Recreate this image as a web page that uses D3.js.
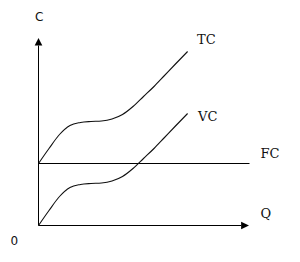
<!DOCTYPE html>
<html><head><meta charset="utf-8">
<script src="https://cdn.jsdelivr.net/npm/d3@7"></script>
<style>html,body{margin:0;padding:0;background:#fff;}svg{display:block;}</style>
</head><body>
<script>
// Data (abstract units)
const quantity = [0, 5, 10, 15, 20, 25, 30, 35, 40, 45, 50, 55, 60, 65, 71];
const variableCost = [0, 15, 29, 38, 41, 42, 42.5, 44.5, 49, 57, 67, 77, 88, 99, 112];
const fixedCost = 62;
const totalCost = variableCost.map(v => v + fixedCost);
const axisLabels = { y: "C", x: "Q", origin: "0" };
const seriesLabels = ["TC", "VC", "FC"];

const W = 300, H = 262;
const svg = d3.select("body").append("svg").attr("width", W).attr("height", H);

const x = d3.scaleLinear().domain([0, 100]).range([38.5, 248.5]);
const y = d3.scaleLinear().domain([0, 187]).range([225.5, 38.5]);

// axes
svg.append("line").attr("x1", x(0)).attr("x2", x(0)).attr("y1", y(0)).attr("y2", y(180))
  .attr("stroke", "#000").attr("stroke-width", 1);
svg.append("path").attr("d", `M${x(0)-3.8},${y(180)} L${x(0)+3.8},${y(180)} L${x(0)},${y(187)-0.5} Z`).attr("fill", "#000");
svg.append("line").attr("x1", x(0)).attr("x2", x(96.5)).attr("y1", y(0)).attr("y2", y(0))
  .attr("stroke", "#000").attr("stroke-width", 1);
svg.append("path").attr("d", `M${x(96.5)},${y(0)-3.8} L${x(96.5)},${y(0)+3.8} L${x(100)+0.5},${y(0)} Z`).attr("fill", "#000");

// FC line
svg.append("line").attr("x1", x(0)).attr("x2", x(100)+1).attr("y1", y(fixedCost)).attr("y2", y(fixedCost))
  .attr("stroke", "#000").attr("stroke-width", 1);

const line = d3.line().x((d, i) => x(quantity[i])).y(d => y(d)).curve(d3.curveMonotoneX);
svg.append("path").datum(totalCost).attr("d", line).attr("fill", "none").attr("stroke", "#111").attr("stroke-width", 1.1);
svg.append("path").datum(variableCost).attr("d", line).attr("fill", "none").attr("stroke", "#111").attr("stroke-width", 1.1);

// labels
const sans = "DejaVu Sans", serif = "DejaVu Serif";
svg.append("text").attr("x", 35).attr("y", 20.7).attr("font-family", sans).attr("font-size", 12).attr("fill", "#111").text(axisLabels.y);
svg.append("text").attr("x", 10.5).attr("y", 245).attr("font-family", sans).attr("font-size", 12).attr("fill", "#111").text(axisLabels.origin);
svg.append("text").attr("x", 197).attr("y", 43.5).attr("font-family", serif).attr("font-size", 13).attr("fill", "#111").text(seriesLabels[0]);
svg.append("text").attr("x", 198).attr("y", 120.5).attr("font-family", serif).attr("font-size", 13).attr("fill", "#111").text(seriesLabels[1]);
svg.append("text").attr("x", 260.5).attr("y", 158).attr("font-family", serif).attr("font-size", 13).attr("fill", "#111").text(seriesLabels[2]);
svg.append("text").attr("x", 260.5).attr("y", 218).attr("font-family", serif).attr("font-size", 13).attr("fill", "#111").text(axisLabels.x);
</script>
</body></html>
